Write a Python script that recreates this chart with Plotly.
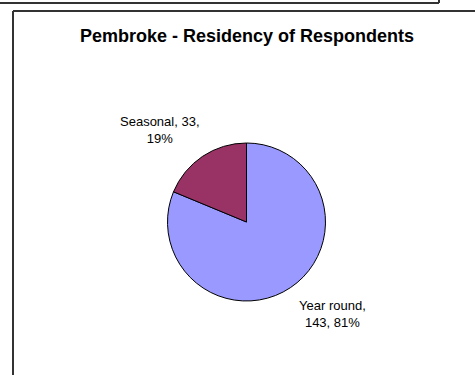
import math
import plotly.graph_objects as go

# Survey responses by residency type
categories = ["Year round", "Seasonal"]
counts = [143, 33]
slice_colors = ["#9999FF", "#993366"]
title_text = "Pembroke - Residency of Respondents"

W, H = 475, 375
cx, cy, R = 246.5, 222.0, 79.0  # pie centre / radius in pixels (from top-left)

fig = go.Figure()
fig.add_trace(go.Pie(
    labels=categories,
    values=counts,
    sort=False,
    direction="clockwise",
    rotation=0,
    marker=dict(colors=slice_colors, line=dict(color="black", width=1)),
    textinfo="none",
    hoverinfo="skip",
    showlegend=False,
    domain=dict(x=[(cx - R) / W, (cx + R) / W],
                y=[(H - cy - R) / H, (H - cy + R) / H]),
))

# Data labels: "name, value, percent" placed outward along each slice's mid-angle
total = sum(counts)
label_lines = {
    "Year round": "Year round,<br>{v}, {p}%",
    "Seasonal": "Seasonal, {v},<br>{p}%",
}
start = 0.0
annotations = []
for name, v in zip(categories, counts):
    frac = v / total
    mid = (start + frac / 2) * 2 * math.pi  # clockwise from 12 o'clock
    start += frac
    lx = cx + 1.96 * R * math.sin(mid)
    ly = cy - 1.40 * R * math.cos(mid)
    annotations.append(dict(
        x=lx / W, y=1 - ly / H, xref="paper", yref="paper",
        xanchor="center", yanchor="middle", showarrow=False,
        text=label_lines[name].format(v=v, p=round(frac * 100)),
        font=dict(family="Arial, Liberation Sans, sans-serif", size=13, color="black"),
        align="center",
    ))

annotations.append(dict(
    x=247.5 / W, y=1 - 36 / H, xref="paper", yref="paper",
    xanchor="center", yanchor="middle", showarrow=False,
    text="<b>" + title_text + "</b>",
    font=dict(family="Arial, Liberation Sans, sans-serif", size=18, color="black"),
))

# Chart frame edges
line_style = dict(color="#333333", width=2)
shapes = [
    dict(type="line", xref="paper", yref="paper", x0=0, x1=439 / W, y0=1 - 3 / H, y1=1 - 3 / H, line=line_style),
    dict(type="line", xref="paper", yref="paper", x0=439 / W, x1=439 / W, y0=1, y1=1 - 3 / H, line=line_style),
    dict(type="line", xref="paper", yref="paper", x0=13 / W, x1=1, y0=1 - 11 / H, y1=1 - 11 / H, line=line_style),
    dict(type="line", xref="paper", yref="paper", x0=13 / W, x1=13 / W, y0=1 - 11 / H, y1=0, line=line_style),
]

fig.update_layout(
    width=W, height=H, autosize=False,
    margin=dict(l=0, r=0, t=0, b=0),
    paper_bgcolor="white", plot_bgcolor="white",
    annotations=annotations, shapes=shapes,
)

fig.write_html("out.html", config={"displayModeBar": False})
